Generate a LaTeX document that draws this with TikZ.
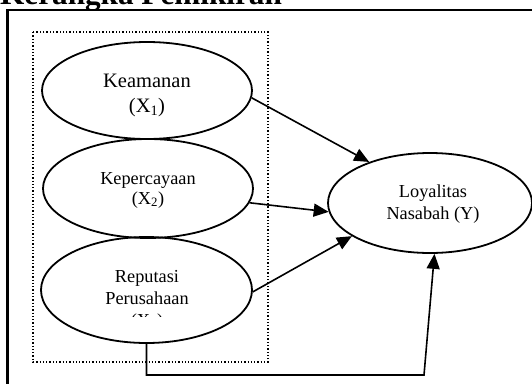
\documentclass[tikz,border=0pt]{standalone}
\usepackage{fontspec}
\setmainfont{Liberation Serif}
\usetikzlibrary{arrows.meta,shapes.geometric}
\begin{document}
\begin{tikzpicture}[x=1pt,y=-1pt,
  ell/.style={draw, ellipse, line width=1.8pt, inner sep=0pt},
  conn/.style={line width=1.6pt, -{Triangle[length=15pt,width=13pt]}},
  lbl/.style={font=\fontsize{18.3}{21}\selectfont, anchor=base, inner sep=0pt},
  lblbig/.style={font=\fontsize{20.5}{24}\selectfont, anchor=base, inner sep=0pt},
]
\useasboundingbox (0,0) rectangle (532,383);
\clip (0,0) rectangle (532,383);
\node[anchor=base west, inner sep=0pt, font=\fontsize{31.2}{36}\selectfont\bfseries] (title) at (0,4.5) {Kerangka Pemikiran};
\draw[line width=2.6pt] (7.5,420) -- (7.5,10) -- (560,10);
\draw[dotted, line width=1.3pt] (33,32) rectangle (268,362);

\node[ell, minimum width=210pt, minimum height=97pt] (x1) at (147,90.5) {};
\node[ell, minimum width=210pt, minimum height=99pt] (x2) at (148,188.5) {};
\node[ell, minimum width=211pt, minimum height=106pt] (x3) at (146.5,290) {};
\node[ell, minimum width=204pt, minimum height=100pt] (y) at (430,203) {};

\node[lblbig] (t1a) at (147,87) {Keamanan};
\node[lblbig] (t1b) at (147,112) {(X\textsubscript{1})};
\node[lbl] (t2a) at (148,184) {Kepercayaan};
\node[lbl] (t2b) at (148,204) {(X\textsubscript{2})};
\node[lbl] (t3a) at (147,282) {Reputasi};
\node[lbl] (t3b) at (147,304) {Perusahaan};
\begin{scope}
  \clip (90,300) rectangle (200,316.5);
  \node[lbl] (t3c) at (147,326) {(X\textsubscript{3})};
\end{scope}
\node[lbl] (tya) at (433,197) {Loyalitas};
\node[lbl] (tyb) at (433,219) {Nasabah (Y)};

\coordinate (c1) at (424,375);
\draw[conn] (x1.-4) -- (y.146);
\draw[conn] (x2.-8) -- (y.185);
\draw[conn] (x3.-1) -- (y.203);
\draw[conn] (x3.south) |- (c1) -- (y.-85);
\end{tikzpicture}
\end{document}
